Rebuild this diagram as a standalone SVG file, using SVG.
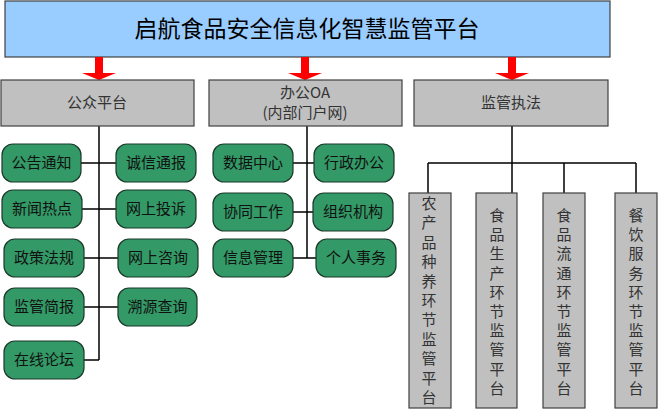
<svg xmlns="http://www.w3.org/2000/svg" width="658" height="410" viewBox="0 0 658 410">
<style>
text{font-family:"Noto Sans CJK SC","Liberation Sans",sans-serif;text-anchor:middle}
.title{font-size:23px;fill:#000}
.gray{fill:#C0C0C0;stroke:#404040;stroke-width:1.2}
.gt{font-size:15px;fill:#333}
.green{fill:#339966;stroke:#1a3a2a;stroke-width:1.2}
.tt{font-size:15px;fill:#111}
.line{stroke:#000;stroke-width:1.5;fill:none}
.arrow{fill:#FF0000}
.vt{font-size:15px;fill:#333}
</style>
<defs>
<polygon id="arr" points="-4,0 4,0 4,16 17,16 0,23 -17,16 -4,16"/>
</defs>
<g id="top">
<rect x="5" y="1" width="605" height="56" fill="#99CCFF" stroke="#404040" stroke-width="1.2"/>
<text class="title" x="307" y="37">启航食品安全信息化智慧监管平台</text>
</g>
<g id="arrows">
<use href="#arr" x="99" y="57" class="arrow"/>
<use href="#arr" x="305" y="57" class="arrow"/>
<use href="#arr" x="512" y="57" class="arrow"/>
</g>
<g id="connectors">
<path class="line" d="M99,126V360M81,163H116M82,209H116M84,258H118M84,307H118M84,360H99"/>
<path class="line" d="M307,126V258M293,163H314M293,212H313M293,258H316"/>
<path class="line" d="M512,126V163M428,163H636M428,163V193M512,163V193M564,163V193M636,163V193"/>
</g>
<g id="gongzhong"><rect class="gray" x="1" y="80" width="193" height="46"/><text class="gt" x="97" y="108">公众平台</text></g>
<g id="bangong"><rect class="gray" x="209" y="80" width="193" height="46"/><text class="gt" x="305" y="98">办公OA</text><text class="gt" x="305" y="118">(内部门户网)</text></g>
<g id="jianguan"><rect class="gray" x="414" y="80" width="194" height="46"/><text class="gt" x="511" y="108">监管执法</text></g>

<g id="n1"><rect class="green" x="2" y="144" width="79" height="38" rx="11"/><text class="tt" x="41.5" y="168">公告通知</text></g>
<g id="n2"><rect class="green" x="116" y="144" width="80" height="38" rx="11"/><text class="tt" x="156" y="168">诚信通报</text></g>
<g id="n3"><rect class="green" x="2" y="190" width="80" height="38" rx="11"/><text class="tt" x="42" y="214">新闻热点</text></g>
<g id="n4"><rect class="green" x="116" y="190" width="80" height="38" rx="11"/><text class="tt" x="156" y="214">网上投诉</text></g>
<g id="n5"><rect class="green" x="4" y="239" width="80" height="38" rx="11"/><text class="tt" x="44" y="263">政策法规</text></g>
<g id="n6"><rect class="green" x="118" y="239" width="80" height="38" rx="11"/><text class="tt" x="158" y="263">网上咨询</text></g>
<g id="n7"><rect class="green" x="4" y="288" width="80" height="38" rx="11"/><text class="tt" x="44" y="312">监管简报</text></g>
<g id="n8"><rect class="green" x="118" y="288" width="79" height="38" rx="11"/><text class="tt" x="157.5" y="312">溯源查询</text></g>
<g id="n9"><rect class="green" x="4" y="341" width="80" height="38" rx="11"/><text class="tt" x="44" y="365">在线论坛</text></g>

<g id="m1"><rect class="green" x="213" y="144" width="80" height="38" rx="11"/><text class="tt" x="253" y="168">数据中心</text></g>
<g id="m2"><rect class="green" x="314" y="144" width="80" height="38" rx="11"/><text class="tt" x="354" y="168">行政办公</text></g>
<g id="m3"><rect class="green" x="213" y="193" width="80" height="38" rx="11"/><text class="tt" x="253" y="217">协同工作</text></g>
<g id="m4"><rect class="green" x="313" y="193" width="80" height="38" rx="11"/><text class="tt" x="353" y="217">组织机构</text></g>
<g id="m5"><rect class="green" x="213" y="239" width="80" height="38" rx="11"/><text class="tt" x="253" y="263">信息管理</text></g>
<g id="m6"><rect class="green" x="316" y="239" width="80" height="38" rx="11"/><text class="tt" x="356" y="263">个人事务</text></g>

<g id="r1"><rect class="gray" x="409" y="193" width="42" height="215"/>
<text class="vt"><tspan x="429" y="209">农</tspan><tspan x="429" dy="19.4">产</tspan><tspan x="429" dy="19.4">品</tspan><tspan x="429" dy="19.4">种</tspan><tspan x="429" dy="19.4">养</tspan><tspan x="429" dy="19.4">环</tspan><tspan x="429" dy="19.4">节</tspan><tspan x="429" dy="19.4">监</tspan><tspan x="429" dy="19.4">管</tspan><tspan x="429" dy="19.4">平</tspan><tspan x="429" dy="19.4">台</tspan></text></g>
<g id="r2"><rect class="gray" x="476" y="193" width="41" height="215"/>
<text class="vt"><tspan x="497" y="221">食</tspan><tspan x="497" dy="19.2">品</tspan><tspan x="497" dy="19.2">生</tspan><tspan x="497" dy="19.2">产</tspan><tspan x="497" dy="19.2">环</tspan><tspan x="497" dy="19.2">节</tspan><tspan x="497" dy="19.2">监</tspan><tspan x="497" dy="19.2">管</tspan><tspan x="497" dy="19.2">平</tspan><tspan x="497" dy="19.2">台</tspan></text></g>
<g id="r3"><rect class="gray" x="543" y="193" width="42" height="215"/>
<text class="vt"><tspan x="564" y="221">食</tspan><tspan x="564" dy="19.2">品</tspan><tspan x="564" dy="19.2">流</tspan><tspan x="564" dy="19.2">通</tspan><tspan x="564" dy="19.2">环</tspan><tspan x="564" dy="19.2">节</tspan><tspan x="564" dy="19.2">监</tspan><tspan x="564" dy="19.2">管</tspan><tspan x="564" dy="19.2">平</tspan><tspan x="564" dy="19.2">台</tspan></text></g>
<g id="r4"><rect class="gray" x="615" y="193" width="42" height="215"/>
<text class="vt"><tspan x="636" y="221">餐</tspan><tspan x="636" dy="19.2">饮</tspan><tspan x="636" dy="19.2">服</tspan><tspan x="636" dy="19.2">务</tspan><tspan x="636" dy="19.2">环</tspan><tspan x="636" dy="19.2">节</tspan><tspan x="636" dy="19.2">监</tspan><tspan x="636" dy="19.2">管</tspan><tspan x="636" dy="19.2">平</tspan><tspan x="636" dy="19.2">台</tspan></text></g>
</svg>
